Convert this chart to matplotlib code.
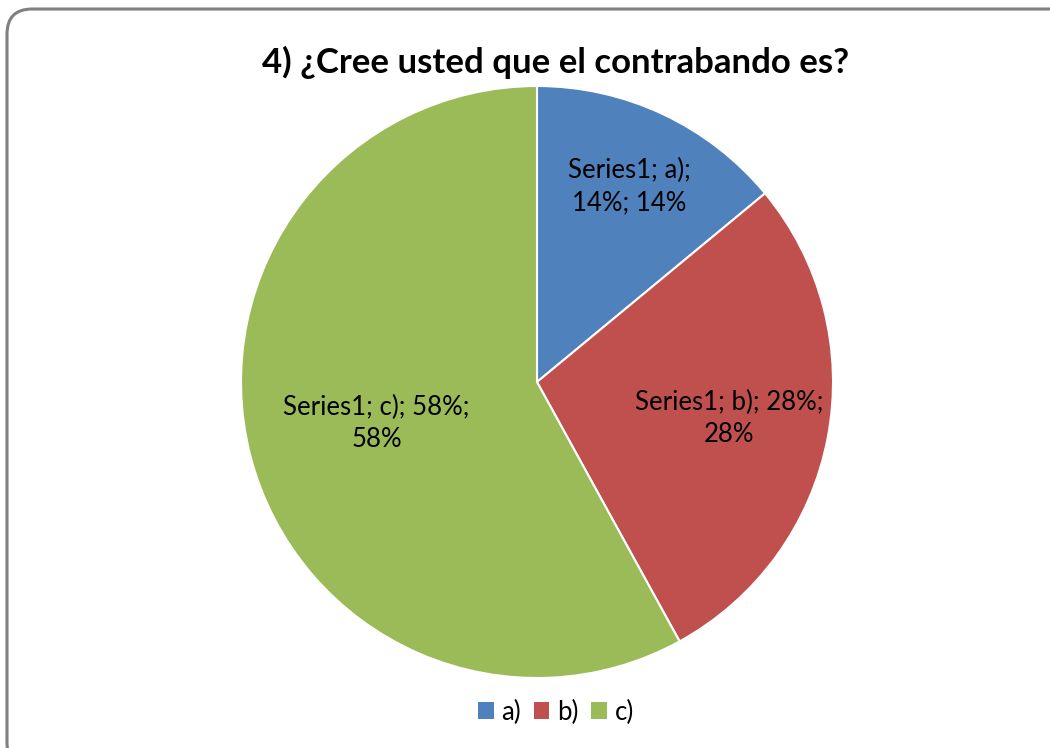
import matplotlib.pyplot as plt
from matplotlib.patches import FancyBboxPatch, Patch
import numpy as np

categories = ["a)", "b)", "c)"]
shares = [14, 28, 58]
colors = ["#4F81BD", "#C0504D", "#9BBB59"]
label_dist = [0.73, 0.66, 0.56]

plt.rcParams["font.family"] = ["Lato", "DejaVu Sans"]

fig = plt.figure(figsize=(10.5, 7.48), dpi=100)

# rounded chart border
border = FancyBboxPatch((7 / 1050, -20 / 748), 1075 / 1050, (748 - 9 + 20) / 748,
                        boxstyle="round,pad=0,rounding_size=0.024",
                        transform=fig.transFigure, facecolor="none",
                        edgecolor="#808080", linewidth=2.2,
                        mutation_aspect=1050 / 748, zorder=-1)
fig.patches.append(border)

ax = fig.add_axes([241 / 1050, 70 / 748, 592 / 1050, 592 / 748])

wedges, _ = ax.pie(shares, colors=colors, startangle=90, counterclock=False,
                   radius=1, wedgeprops=dict(edgecolor="white", linewidth=1.5))
ax.set_xlim(-1, 1)
ax.set_ylim(-1, 1)
ax.set_aspect("equal")
ax.axis("off")

texts = ["Series1; a);\n14%; 14%", "Series1; b); 28%;\n28%", "Series1; c); 58%;\n58%"]
start = 90
for share, d, t in zip(shares, label_dist, texts):
    mid = np.deg2rad(start - share * 3.6 / 2)
    start -= share * 3.6
    ax.text(d * np.cos(mid), d * np.sin(mid), t, ha="center", va="center",
            fontsize=18.5, linespacing=1.35, color="black")

fig.text(556 / 1050, 1 - 62 / 748, "4) ¿Cree usted que el contrabando es?",
         ha="center", va="center", fontsize=25, fontweight="bold")

handles = [Patch(facecolor=c, edgecolor="none") for c in colors]
fig.legend(handles, categories, loc="center", bbox_to_anchor=(556 / 1050, 1 - 712 / 748),
           ncol=3, frameon=False, fontsize=18.5, handlelength=0.6, handleheight=0.6,
           handletextpad=0.3, columnspacing=0.5)

fig.savefig("out.png", dpi=100)
